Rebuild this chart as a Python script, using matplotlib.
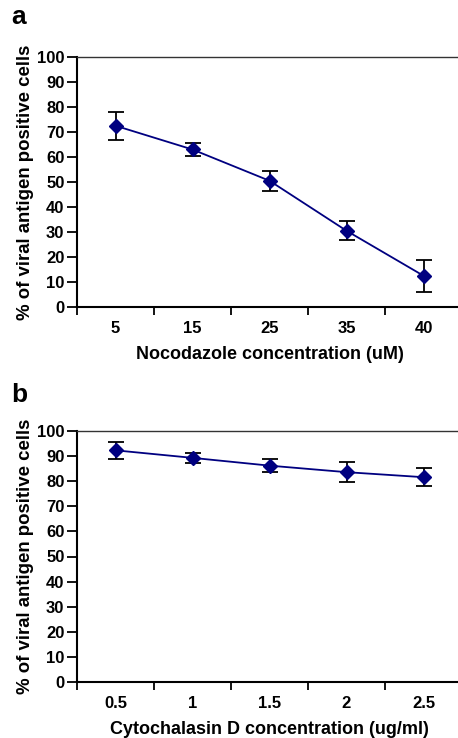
import matplotlib
matplotlib.use("Agg")
import matplotlib.pyplot as plt
import numpy as np

plt.rcParams['font.family'] = ['Liberation Sans', 'DejaVu Sans']
plt.rcParams['font.weight'] = 'bold'

# Panel a data
noc_labels = ["5", "15", "25", "35", "40"]
noc_values = [72.5, 63.0, 50.5, 30.5, 12.5]
noc_errors = [5.6, 2.5, 4.0, 3.9, 6.3]

# Panel b data
cyt_labels = ["0.5", "1", "1.5", "2", "2.5"]
cyt_values = [92.3, 89.3, 86.2, 83.6, 81.6]
cyt_errors = [3.3, 1.9, 2.7, 4.0, 3.7]

y_ticks = list(range(0, 101, 10))

W, H = 458, 738
fig = plt.figure(figsize=(W / 100, H / 100), dpi=100)

navy = '#000080'
TICK_FS = 12
LABEL_FS = 13
YLABEL_FS = 13.4

def panel(rect_px, labels, values, errors, xlabel, letter, letter_y):
    l, t, r, b = rect_px
    ax = fig.add_axes([l / W, (H - b) / H, (r - l) / W, (b - t) / H])
    x = np.arange(len(labels))
    ax.errorbar(x, values, yerr=errors, fmt='none', ecolor='black',
                elinewidth=1.3, capsize=6, capthick=1.3, zorder=2)
    ax.plot(x, values, color=navy, lw=1.3, marker='D', markersize=7.5,
            markerfacecolor=navy, markeredgecolor=navy, zorder=3)
    ax.set_xlim(-0.5, len(labels) - 0.5)
    ax.set_ylim(0, 100)
    ax.set_yticks(y_ticks)
    ax.set_yticklabels([str(v) for v in y_ticks], fontsize=TICK_FS, fontweight='bold')
    ax.set_xticks(np.arange(-0.5, len(labels), 1.0))
    ax.set_xticklabels([])
    ax.set_xticks(x, minor=True)
    ax.set_xticklabels(labels, minor=True, fontsize=TICK_FS, fontweight='bold')
    ax.tick_params(axis='x', which='minor', length=0, pad=10)
    ax.tick_params(axis='x', which='major', direction='out', length=6, width=1.3)
    ax.tick_params(axis='y', direction='out', length=7, width=1.3, pad=2)
    for s in ['left', 'bottom']:
        ax.spines[s].set_linewidth(1.5)
    ax.spines['top'].set_linewidth(1.0)
    ax.spines['top'].set_color('#333333')
    ax.spines['right'].set_visible(False)
    ax.set_xlabel(xlabel, fontsize=LABEL_FS, fontweight='bold', labelpad=7)
    ax.set_ylabel('% of viral antigen positive cells', fontsize=YLABEL_FS,
                  fontweight='bold', labelpad=2)
    fig.text(11 / W, 1 - letter_y / H, letter, fontsize=19, fontweight='bold',
             ha='left', va='center')
    return ax

panel((77, 57, 462, 307), noc_labels, noc_values, noc_errors,
      'Nocodazole concentration (uM)', 'a', 17)
panel((77, 431, 462, 682), cyt_labels, cyt_values, cyt_errors,
      'Cytochalasin D concentration (ug/ml)', 'b', 395)

fig.savefig('out.png', dpi=100)
